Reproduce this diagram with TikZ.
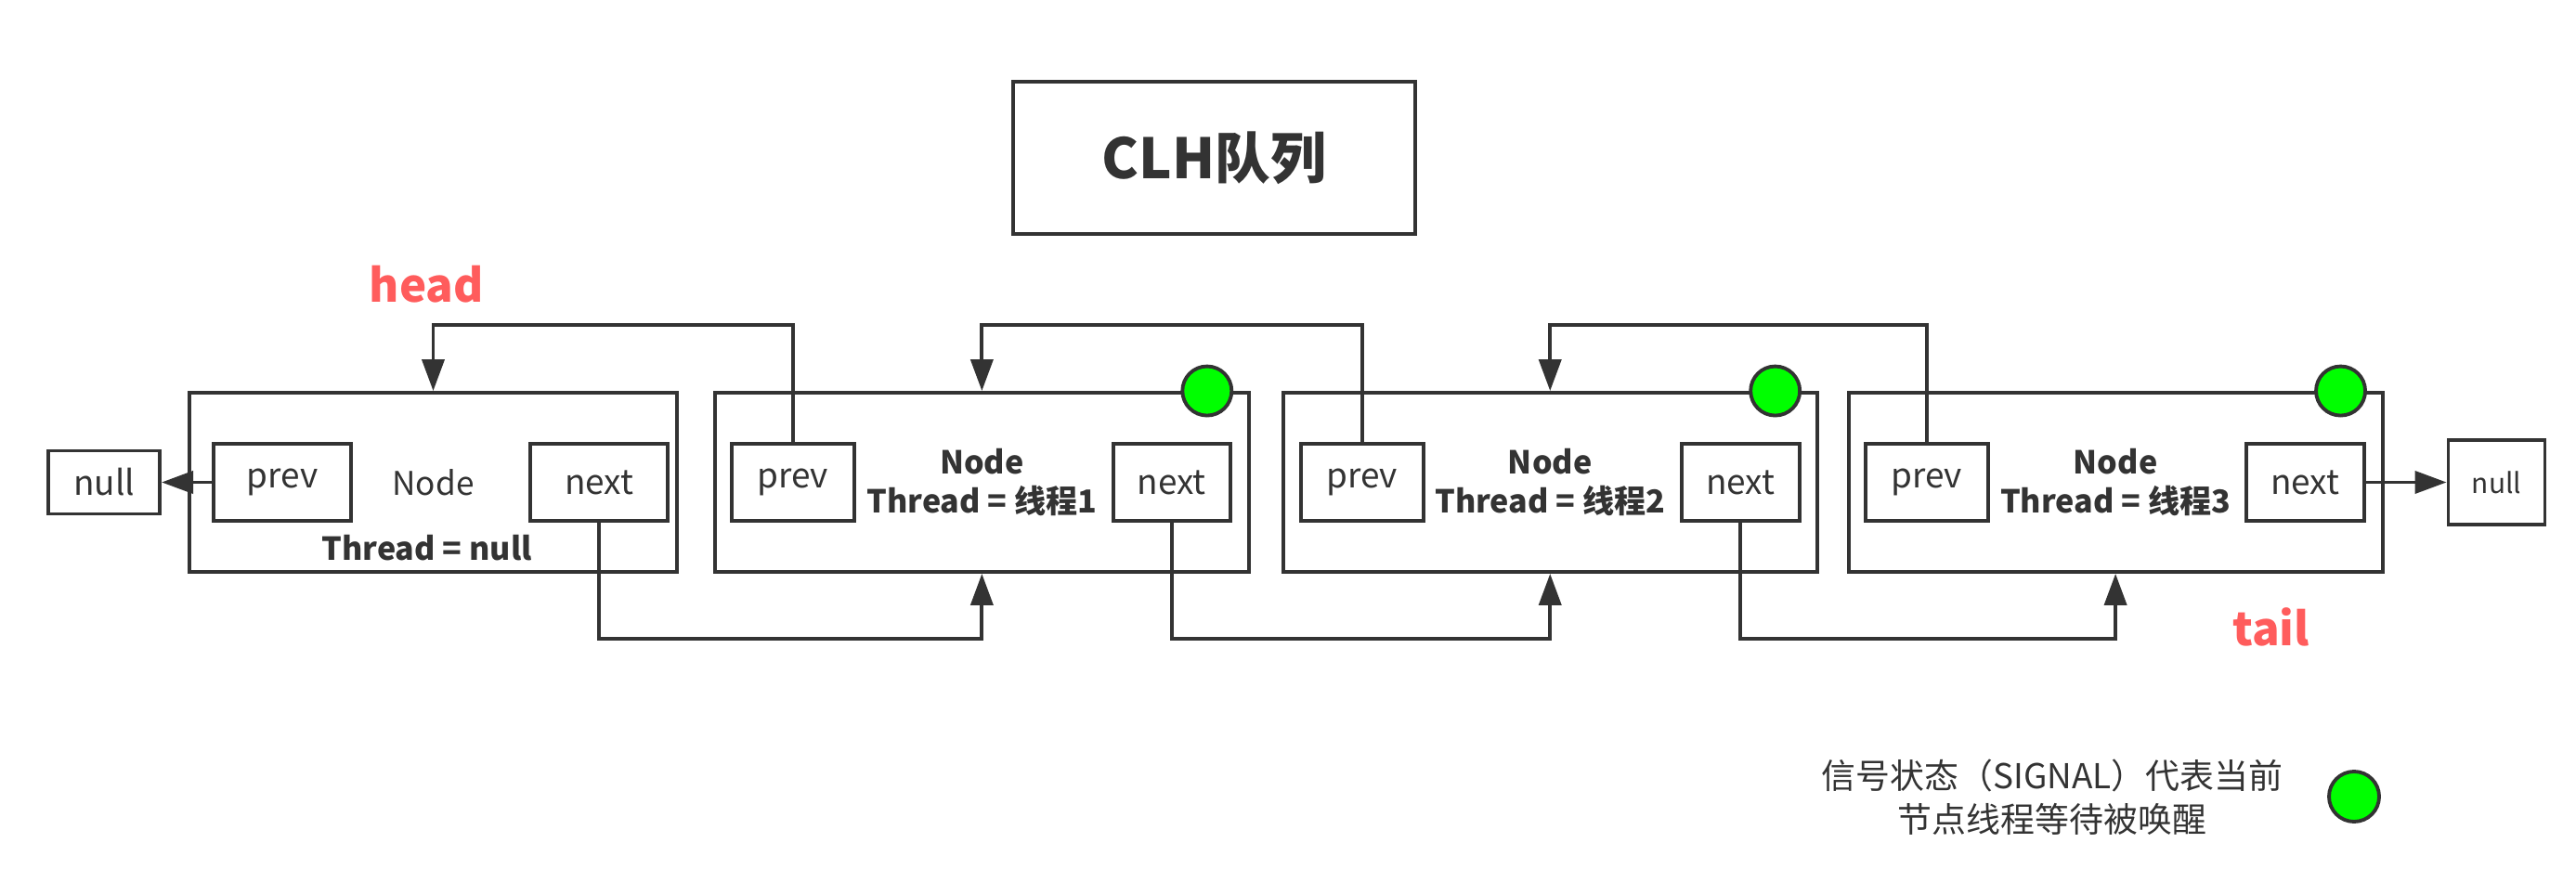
\documentclass[tikz,border=0pt]{standalone}
\usepackage{fontspec}
\setmainfont{Noto Sans CJK SC}
\usetikzlibrary{arrows.meta,positioning}
\definecolor{ink}{RGB}{51,51,51}
\definecolor{tagred}{RGB}{255,92,92}
\definecolor{signalgreen}{RGB}{0,255,0}
\tikzset{
  qnode/.style={draw=ink, line width=1.1pt, minimum height=19.3mm, text=ink, align=center, inner sep=0pt},
  field/.style={draw=ink, line width=1.1pt, minimum height=8.3mm, text=ink, inner sep=0pt, font=\fontsize{10.5}{12}\selectfont},
  nullbox/.style={draw=ink, line width=1.1pt, text=ink, inner sep=0pt},
  signal/.style={circle, draw=ink, line width=1.1pt, fill=signalgreen, minimum size=5.3mm, inner sep=0pt},
  ptr/.style={draw=ink, line width=1.1pt, -{Triangle[length=3.4mm,width=2.4mm]}},
  tag/.style={text=tagred, inner sep=0pt, font=\fontsize{14}{16}\selectfont\bfseries},
  boldlbl/.style={text=ink, inner sep=0pt, align=center, font=\fontsize{9.7}{11.7}\selectfont\bfseries},
}

\begin{document}
\begin{tikzpicture}
  \useasboundingbox (0,0) rectangle (277.4mm,-93.6mm);

  % title
  \node[draw=ink, line width=1.1pt, minimum width=43.3mm, minimum height=16.4mm, text=ink,
        font=\fontsize{17}{20}\selectfont\bfseries] (title) at (130.75mm,-17mm) {CLH队列};

  % queue nodes
  \node[qnode, minimum width=52.5mm, font=\fontsize{10}{12}\selectfont] (n0) at (46.65mm,-51.95mm) {Node};
  \node[qnode, minimum width=57.5mm, font=\fontsize{9.7}{11.7}\selectfont\bfseries, right=3.7mm of n0] (n1) {Node\\Thread = 线程1};
  \node[qnode, minimum width=57.5mm, font=\fontsize{9.7}{11.7}\selectfont\bfseries, right=3.3mm of n1] (n2) {Node\\Thread = 线程2};
  \node[qnode, minimum width=57.5mm, font=\fontsize{9.7}{11.7}\selectfont\bfseries, right=3mm of n2] (n3) {Node\\Thread = 线程3};

  \node[boldlbl] (t0) at ([xshift=-0.7mm,yshift=2.8mm]n0.south) {Thread = null};

  % prev / next fields
  \node[field, minimum width=14.8mm, right=2.6mm of n0.west] (p0) {prev};
  \node[field, minimum width=14.8mm, left=1mm of n0.east] (x0) {next};
  \node[field, minimum width=13.2mm, right=1.8mm of n1.west] (p1) {prev};
  \node[field, minimum width=12.6mm, left=2mm of n1.east] (x1) {next};
  \node[field, minimum width=13.2mm, right=1.9mm of n2.west] (p2) {prev};
  \node[field, minimum width=12.7mm, left=1.9mm of n2.east] (x2) {next};
  \node[field, minimum width=13.2mm, right=1.8mm of n3.west] (p3) {prev};
  \node[field, minimum width=12.7mm, left=2mm of n3.east] (x3) {next};

  % signal marks
  \node[signal] (s1) at ([xshift=-4.7mm]n1.north east) {};
  \node[signal] (s2) at ([xshift=-4.7mm]n2.north east) {};
  \node[signal] (s3) at ([xshift=-4.7mm]n3.north east) {};

  % null ends
  \node[nullbox, minimum width=12mm, minimum height=6.8mm, font=\fontsize{10.5}{12}\selectfont, left=2.8mm of n0] (nl) {null};
  \node[nullbox, minimum width=10.4mm, minimum height=9.1mm, font=\fontsize{8.5}{10}\selectfont, right=6.7mm of n3] (nr) {null};

  \draw[ptr] (p0) -- (nl);
  \draw[ptr] (x3) -- (nr);

  % prev links
  \draw[ptr] (p1.north) -- ++(0,12.6mm) -| (n0.north);
  \draw[ptr] (p2.north) -- ++(0,12.6mm) -| (n1.north);
  \draw[ptr] (p3.north) -- ++(0,12.6mm) -| (n2.north);

  % next links
  \draw[ptr] (x0.south) -- ++(0,-12.5mm) -| (n1.south);
  \draw[ptr] (x1.south) -- ++(0,-12.5mm) -| (n2.south);
  \draw[ptr] (x2.south) -- ++(0,-12.5mm) -| (n3.south);

  % head / tail
  \node[tag] (head) at ([xshift=-0.7mm,yshift=11.5mm]n0.north) {head};
  \node[tag] (tail) at ([xshift=-12.2mm,yshift=-5.7mm]n3.south east) {tail};

  % legend
  \node[text=ink, align=center, inner sep=0pt, font=\fontsize{10.5}{13.4}\selectfont] (legtxt) at (221mm,-85.85mm)
    {信号状态（SIGNAL）代表当前\\节点线程等待被唤醒};
  \node[signal, minimum size=5.4mm] (legdot) at (253.5mm,-85.8mm) {};
\end{tikzpicture}
\end{document}
